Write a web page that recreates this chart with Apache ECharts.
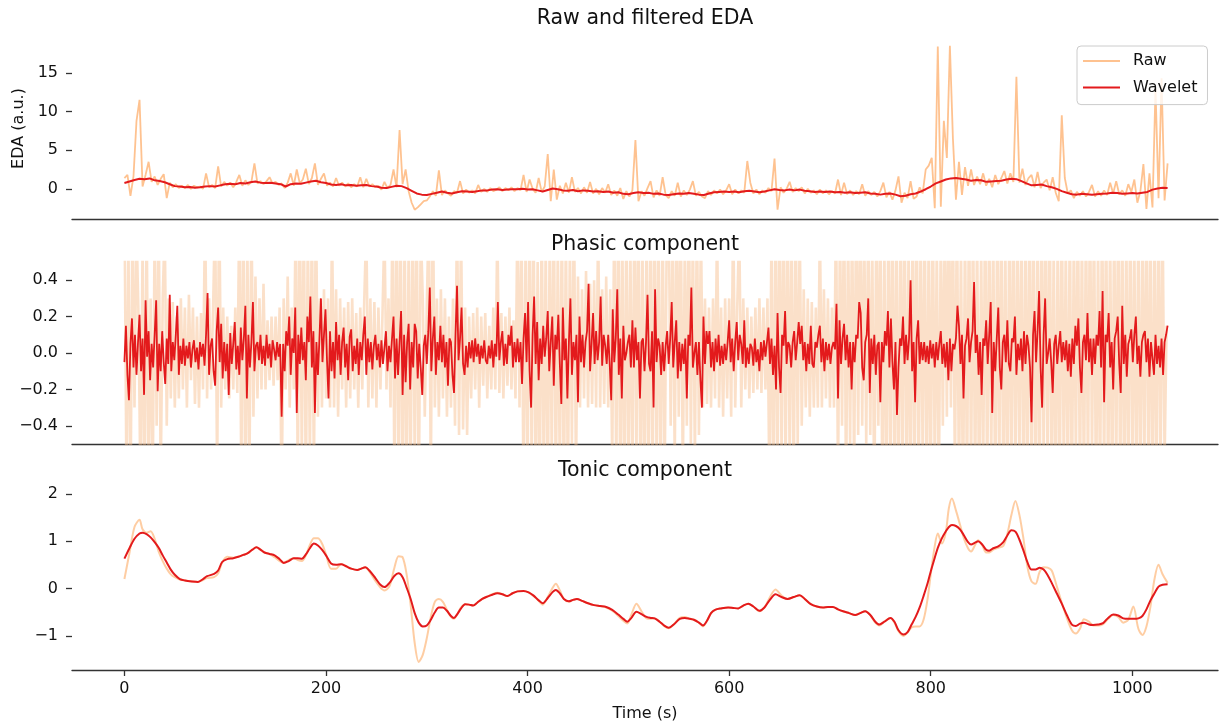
<!DOCTYPE html>
<html>
<head>
<meta charset="utf-8">
<script src="https://cdn.jsdelivr.net/npm/echarts@6/dist/echarts.min.js"></script>
<style>
  html, body { margin: 0; padding: 0; background: #ffffff; }
  #chart { width: 1221px; height: 723px; }
</style>
</head>
<body>
<div id="chart"></div>
<script>
// ---- Recording: raw and wavelet-filtered EDA, decomposed into phasic and tonic parts ----

// Raw EDA, sampled every 3 s (a.u.)
const rawStep = 3;
const edaRaw = [
  1.4, 1.8, -0.9, 1.6, 8.8, 11.5, 0.3, 1.8, 3.5, 0.9,
  1.6, 0.5, 1.3, 1.9, -1.2, 0.8, 0.2, 0.6, 0.1, 0.4,
  0.1, 0.5, 0.0, 0.4, 0.2, 0.3, 0.0, 2.0, 0.2, 0.5,
  0.1, 2.9, 0.3, 0.9, 0.4, 0.8, 0.2, 0.9, 1.8, 0.4,
  1.1, 0.5, 0.9, 3.3, 0.7, 1.0, 0.6, 1.0, 1.5, 0.7,
  0.9, 0.5, 0.7, 0.1, 0.8, 2.0, 0.4, 2.5, 0.7, 1.2,
  2.6, 0.6, 1.4, 3.3, 0.5, 1.3, 2.0, 0.4, 0.8, 0.3,
  1.4, 0.4, 0.8, 0.3, 0.7, 0.2, 0.6, 0.3, 1.5, 0.2,
  1.3, 0.3, 0.6, 0.2, 0.4, -0.1, 0.9, 0.1, 0.5, 2.5,
  0.2, 7.6, 0.6, 2.5, -0.3, -1.8, -2.7, -2.4, -2.0, -1.6,
  -1.5, -1.0, -0.3, -0.9, 2.4, -0.8, -0.2, -0.6, -0.9, -0.3,
  -0.5, 1.0, -0.6, -0.1, -0.5, -0.2, -0.6, 0.5, -0.4, 0.0,
  -0.4, 0.1, -0.3, -0.1, 0.2, -0.3, 0.1, -0.2, 0.2, -0.3,
  0.1, -0.2, 1.8, -0.4, 1.2, 0.0, -0.5, 1.4, -0.4, 0.3,
  4.5, -1.6, 2.5, -1.4, 0.4, -0.6, 0.8, -0.5, 1.5, -0.4,
  0.1, -0.6, 0.2, -0.5, 0.9, -0.6, 0.0, -0.7, 0.1, -0.5,
  0.6, -0.8, -0.2, -0.9, 0.1, -1.3, -0.3, -1.0, -0.2, 6.3,
  -1.6, -0.3, -0.9, 0.1, 1.0, -1.1, -0.2, -0.9, 1.5, -0.8,
  -1.2, -0.3, -0.9, 0.8, -1.0, -0.2, -0.8, -0.1, 1.0, -0.9,
  -0.4, -1.0, -1.2, -0.3, -0.8, -0.2, -0.6, -0.1, -0.7, -0.2,
  0.6, -0.7, -0.1, -0.6, -0.2, -0.5, 3.6, 0.8, -0.6, -0.1,
  -0.7, -0.2, -0.5, 0.1, -0.3, 3.9, -2.7, 0.2, -0.5, 0.0,
  0.9, -0.4, 0.1, -0.3, 0.2, -0.6, 0.0, -0.5, -0.2, -0.7,
  -0.1, -0.6, -0.2, -0.7, -0.3, -0.6, 1.2, -0.8, 0.8, -0.7,
  -0.2, -0.8, -0.3, -0.7, 0.6, -0.9, -0.3, -0.8, -0.4, -1.0,
  -0.3, 0.8, -1.1, -0.4, -1.4, -0.2, 1.6, -1.8, -0.5, -1.2,
  1.0, -1.3, -1.0, 0.2, -0.6, 2.5, 3.0, 4.0, -2.5, 18.4,
  -2.3, 8.8, 4.0, 18.5, 6.5, -1.4, 3.5, -0.8, 2.8, 0.4,
  2.5, 0.5, 1.6, 0.6, 2.0, 0.4, 1.3, 0.2, 1.8, 0.6,
  1.4, 2.3, 0.7, 2.0, 0.9, 14.5, 0.8, 2.6, 0.5, 1.4,
  1.8, 0.2, 2.2, 0.1, 0.8, 1.2, -0.2, 1.5, -0.5, -1.6,
  9.5, 1.4, -0.6, -0.2, -1.2, -0.4, -0.9, -0.3, -1.0, -0.4,
  0.5, -1.0, -0.3, -0.9, -0.2, -0.8, 0.8, -0.6, 1.0, -0.7,
  -0.2, -0.9, 0.6, -0.4, 1.2, -1.8, -0.3, 3.2, -2.6, 2.0,
  -2.4, 13.0, -1.2, 14.3, -1.5, 3.3
];

// Wavelet-filtered EDA, sampled every 5 s
const waveStep = 5;
const edaWavelet = [
  0.75, 0.95, 1.15, 1.30, 1.25, 1.35, 1.10, 1.00, 0.85, 0.60,
  0.35, 0.30, 0.20, 0.25, 0.15, 0.20, 0.30, 0.35, 0.30, 0.45,
  0.60, 0.65, 0.60, 0.75, 0.70, 0.85, 0.95, 0.80, 0.75, 0.80,
  0.70, 0.60, 0.30, 0.60, 0.70, 0.65, 0.80, 0.95, 1.05, 0.85,
  0.75, 0.55, 0.50, 0.60, 0.45, 0.50, 0.40, 0.45, 0.50, 0.35,
  0.30, 0.15, 0.10, 0.25, 0.40, 0.35, 0.10, -0.25, -0.60, -0.75,
  -0.80, -0.65, -0.50, -0.35, -0.50, -0.60, -0.45, -0.30, -0.35, -0.40,
  -0.30, -0.20, -0.20, -0.10, -0.05, -0.15, -0.10, -0.05, -0.05, 0.00,
  -0.10, -0.05, -0.20, -0.35, -0.15, 0.05, -0.05, -0.20, -0.25, -0.15,
  -0.30, -0.20, -0.25, -0.35, -0.30, -0.40, -0.35, -0.50, -0.45, -0.65,
  -0.70, -0.55, -0.45, -0.55, -0.50, -0.65, -0.60, -0.75, -0.80, -0.70,
  -0.60, -0.65, -0.55, -0.65, -0.75, -0.80, -0.60, -0.45, -0.40, -0.35,
  -0.40, -0.35, -0.45, -0.30, -0.25, -0.35, -0.45, -0.35, -0.20, -0.05,
  -0.15, -0.20, -0.10, -0.20, -0.10, -0.25, -0.30, -0.40, -0.35, -0.40,
  -0.35, -0.45, -0.40, -0.50, -0.45, -0.55, -0.50, -0.45, -0.60, -0.65,
  -0.75, -0.65, -0.60, -0.75, -0.95, -0.90, -0.70, -0.60, -0.35, -0.05,
  0.30, 0.70, 0.95, 1.20, 1.35, 1.40, 1.30, 1.20, 1.05, 1.15,
  1.10, 0.90, 0.95, 1.00, 1.05, 1.20, 1.30, 1.25, 1.00, 0.70,
  0.45, 0.50, 0.55, 0.35, 0.20, 0.00, -0.30, -0.50, -0.70, -0.75,
  -0.65, -0.70, -0.75, -0.70, -0.65, -0.60, -0.50, -0.55, -0.65, -0.60,
  -0.55, -0.60, -0.50, -0.40, -0.10, 0.05, 0.15, 0.10
];

// Phasic component of the raw signal, every 2 s
const phasicRawStep = 2;
const phasicRaw = [
  0.9, -0.7, 0.6, -0.9, 0.8, -0.3, 0.7, 0.2, -0.8, 0.6, -0.9, 0.8, -0.7, 0.3, -0.8,
  0.7, -0.4, 0.8, -0.7, 0.3, 0.7, -0.4, 0.3, -0.25, 0.28, -0.3, 0.2, -0.25, 0.3, -0.2,
  0.25, -0.3, 0.32, -0.15, 0.25, -0.28, 0.2, -0.3, 0.22, -0.2, 0.8, -0.25, 0.3, -0.2, 0.25,
  0.8, -0.7, 0.9, -0.3, 0.25, -0.2, 0.2, -0.25, 0.15, -0.2, 0.25, -0.22, 0.8, -0.7, 0.9,
  -0.9, 0.6, -0.7, 0.8, -0.35, 0.42, -0.25, 0.3, -0.2, 0.38, -0.2, 0.18, -0.15, 0.2, -0.18,
  0.2, -0.15, 0.25, -0.8, 0.3, -0.2, 0.42, -0.3, 0.25, -0.2, 0.8, -0.7, 0.9, -0.6, 0.8,
  -0.8, 0.7, -0.6, 0.8, -0.7, 0.9, -0.35, 0.3, -0.3, 0.35, -0.25, 0.3, -0.3, 0.7, -0.3,
  0.35, -0.35, 0.3, -0.2, 0.25, -0.3, 0.28, -0.25, 0.3, -0.2, 0.22, -0.3, 0.25, -0.2, 0.3,
  0.7, -0.3, 0.3, -0.25, 0.28, -0.3, 0.25, -0.2, 0.2, 0.7, -0.2, 0.3, -0.3, 0.8, -0.8,
  0.9, -0.7, 0.8, -0.9, 0.7, -0.8, 0.6, -0.7, 0.9, -0.6, 0.8, -0.9, 0.7, 0.3, -0.35,
  0.25, 0.8, -0.7, 0.9, -0.3, 0.3, -0.35, 0.35, -0.25, 0.3, -0.35, 0.2, -0.3, 0.3, -0.4,
  0.8, -0.45, 0.7, -0.42, 0.25, -0.45, 0.2, -0.25, 0.22, -0.2, 0.25, -0.3, 0.2, -0.18, 0.22,
  -0.25, 0.15, -0.2, 0.25, -0.2, 0.7, -0.22, 0.22, -0.25, 0.2, -0.18, 0.25, -0.2, 0.18, -0.25,
  0.8, -0.3, 0.7, -0.8, 0.6, -0.7, 0.9, -0.6, 0.7, -0.8, 0.5, -0.9, 0.8, -0.7, 0.6,
  -0.9, 0.7, -0.6, 0.9, -0.8, 0.6, -0.7, 0.8, -0.9, 0.7, -0.8, 0.6, -0.5, 0.9, -0.7,
  0.42, -0.3, 0.35, -0.25, 0.45, -0.3, 0.38, -0.28, 0.4, -0.3, 0.7, -0.3, 0.35, -0.28, 0.42,
  -0.3, 0.35, -0.6, 0.8, -0.7, 0.9, -0.8, 0.7, -0.9, 0.8, -0.7, 0.6, -0.8, 0.9, -0.6,
  0.9, -0.8, 0.6, -0.9, 0.7, -0.7, 0.8, -0.8, 0.9, -0.6, 0.7, -0.9, 0.8, -0.7, 0.6,
  0.8, -0.4, 0.7, -0.6, 0.9, -0.35, 0.8, -0.7, 0.6, -0.4, 0.9, -0.5, 0.7, -0.6, 0.8,
  -0.45, 0.7, -0.3, 0.3, -0.28, 0.25, -0.3, 0.3, -0.25, 0.7, -0.3, 0.25, -0.35, 0.3, -0.25,
  0.3, -0.35, 0.8, -0.3, 0.25, 0.7, -0.3, 0.3, -0.2, 0.25, -0.25, 0.2, -0.22, 0.25, -0.2,
  0.3, -0.22, 0.25, -0.2, 0.3, -0.8, 0.7, -0.9, 0.8, -0.7, 0.9, -0.6, 0.8, -0.7, 0.9,
  -0.6, 0.7, -0.8, 0.8, -0.5, 0.7, -0.4, 0.35, -0.3, 0.3, -0.35, 0.28, -0.3, 0.25, -0.3,
  0.7, -0.3, 0.35, -0.25, 0.3, -0.3, 0.25, -0.3, 0.8, -0.7, 0.7, -0.4, 0.9, -0.8, 0.7,
  -0.5, 0.8, -0.7, 0.9, -0.45, 0.9, -0.4, 0.7, -0.5, 0.8, -0.45, 0.6, -0.9, 0.8, -0.4,
  0.8, -0.8, 0.6, -0.9, 0.8, -0.7, 0.9, -0.8, 0.7, -0.9, 0.8, -0.7, 0.9, -0.8, 0.6,
  -0.9, 0.8, -0.7, 0.9, -0.8, 0.7, -0.6, 0.8, -0.9, 0.7, -0.8, 0.9, -0.7, 0.6, -0.8,
  0.7, -0.4, 0.8, -0.35, 0.9, -0.3, 0.8, -0.7, 0.9, -0.8, 0.6, -0.9, 0.7, -0.8, 0.9,
  -0.7, 0.8, -0.8, 0.7, -0.9, 0.6, -0.7, 0.9, -0.8, 0.8, -0.6, 0.7, -0.9, 0.8, -0.7,
  0.9, -0.8, 0.6, -0.9, 0.8, -0.7, 0.9, -0.8, 0.7, -0.6, 0.8, -0.9, 0.7, -0.8, 0.9,
  -0.7, 0.8, -0.9, 0.7, -0.8, 0.9, -0.6, 0.8, -0.7, 0.9, -0.8, 0.6, -0.9, 0.7, -0.8,
  0.9, -0.7, 0.6, -0.8, 0.8, -0.9, 0.7, -0.6, 0.9, -0.8, 0.7, -0.8, 0.8, -0.7, 0.9,
  -0.6, 0.8, -0.9, 0.6, -0.8, 0.9, -0.7, 0.8, -0.8, 0.7, -0.9, 0.8, -0.7, 0.9, -0.8,
  0.8, -0.9, 0.7, -0.8, 0.9, -0.7, 0.6, -0.8, 0.8, -0.9, 0.7, -0.6, 0.9, -0.8, 0.8,
  -0.9, 0.7, -0.8, 0.9, -0.7, 0.8, -0.6, 0.15
];

// Phasic component after wavelet filtering, every 1.5 s
const phasicStep = 1.5;
const phasicWavelet = [
  -0.05, 0.15, -0.12, -0.26, 0.05, 0.19, -0.08, 0.10, -0.12, 0.06, 0.21, -0.10, 0.08, -0.23, 0.29, -0.02, 0.12, -0.15, 0.05, -0.08,
  0.10, 0.29, -0.21, 0.05, -0.10, 0.12, -0.05, -0.17, 0.08, -0.06, 0.32, -0.10, 0.06, -0.04, 0.10, 0.26, -0.12, 0.04, -0.06, 0.08,
  -0.07, 0.04, -0.03, 0.06, -0.08, 0.02, 0.07, -0.05, 0.03, -0.09, 0.06, -0.02, 0.05, -0.07, 0.10, 0.33, -0.12, 0.04, 0.08, -0.10,
  -0.18, 0.12, 0.25, -0.05, 0.16, -0.14, 0.06, -0.10, 0.05, -0.23, 0.11, -0.06, 0.05, 0.17, -0.09, 0.04, -0.12, 0.14, -0.04, 0.08,
  0.26, -0.25, 0.10, -0.08, 0.06, 0.28, -0.10, 0.04, 0.06, -0.04, 0.10, -0.06, 0.04, -0.07, 0.10, -0.03, 0.05, -0.08, 0.07, 0.02,
  -0.04, 0.06, -0.02, 0.05, -0.35, 0.05, -0.10, 0.12, 0.04, 0.20, -0.12, 0.08, 0.00, 0.25, -0.33, 0.10, -0.06, 0.14, -0.04, 0.06,
  -0.15, 0.20, 0.06, 0.31, -0.08, 0.12, -0.33, 0.06, -0.12, 0.08, 0.30, -0.05, 0.10, 0.24, -0.04, -0.25, 0.12, -0.10, 0.06, -0.14,
  0.17, -0.04, 0.10, -0.12, 0.06, 0.14, -0.08, 0.05, -0.15, 0.09, 0.13, -0.10, 0.04, -0.06, 0.08, -0.12, 0.06, -0.04, 0.10, 0.20,
  -0.12, 0.08, -0.05, 0.06, -0.09, 0.04, 0.10, -0.04, 0.05, -0.08, 0.07, -0.06, 0.03, 0.12, -0.10, 0.04, -0.05, 0.08, 0.20, -0.14,
  0.08, -0.12, 0.06, 0.23, -0.23, 0.10, -0.16, 0.06, 0.16, -0.20, 0.06, -0.08, 0.16, 0.12, -0.14, 0.05, -0.08, -0.23, 0.04, 0.10,
  -0.06, 0.12, 0.36, -0.10, 0.08, 0.20, -0.12, 0.06, -0.04, 0.15, -0.05, 0.10, -0.08, 0.06, -0.18, 0.08, 0.06, -0.12, -0.22, 0.10,
  0.37, -0.04, 0.08, 0.25, -0.06, -0.12, 0.04, -0.08, 0.06, -0.03, 0.07, -0.05, 0.08, -0.02, 0.05, -0.06, 0.04, -0.03, 0.07, -0.04,
  -0.06, 0.04, -0.03, 0.07, -0.08, 0.05, -0.02, 0.28, -0.04, 0.06, 0.12, -0.07, 0.05, -0.06, 0.10, 0.04, 0.15, -0.08, 0.06, -0.05,
  0.08, -0.05, 0.06, -0.17, 0.08, 0.22, -0.05, 0.28, -0.10, -0.30, 0.10, 0.31, -0.06, 0.17, -0.15, 0.08, -0.06, 0.15, -0.02, 0.08,
  0.23, -0.10, 0.06, 0.20, -0.18, 0.10, 0.02, 0.21, -0.06, -0.28, 0.25, -0.04, 0.08, -0.25, 0.06, 0.30, -0.12, 0.06, -0.04, 0.10,
  -0.27, 0.20, -0.05, 0.10, -0.08, 0.06, 0.12, 0.38, -0.10, 0.05, 0.22, -0.06, 0.12, -0.04, 0.06, 0.31, -0.07, 0.10, 0.04, -0.06,
  0.10, -0.06, -0.26, 0.24, -0.05, 0.08, 0.35, -0.12, 0.08, -0.25, 0.15, -0.04, 0.00, 0.06, 0.10, -0.08, 0.18, -0.08, 0.14, -0.04,
  0.06, -0.25, 0.06, 0.08, -0.10, 0.06, 0.32, -0.06, -0.10, 0.12, -0.30, 0.35, -0.05, 0.08, 0.04, -0.12, 0.06, -0.10, 0.04, 0.12,
  -0.06, 0.08, 0.28, -0.08, 0.06, 0.18, -0.14, 0.06, -0.10, 0.05, -0.06, 0.08, -0.25, 0.10, 0.04, 0.36, -0.08, 0.00, 0.06, -0.12,
  0.06, -0.15, -0.30, 0.20, -0.06, 0.12, 0.05, 0.12, -0.08, 0.06, -0.10, 0.08, -0.05, 0.10, -0.07, 0.04, -0.06, 0.05, -0.04, 0.06,
  0.18, -0.05, 0.08, -0.10, 0.06, 0.17, -0.04, 0.10, 0.05, -0.06, 0.18, -0.08, 0.03, -0.06, 0.05, 0.03, -0.07, 0.08, -0.05, 0.02,
  -0.10, 0.06, -0.04, 0.07, -0.02, 0.06, 0.14, -0.06, 0.08, -0.12, 0.04, -0.20, 0.22, -0.08, -0.22, 0.10, 0.04, 0.23, -0.06, 0.06,
  0.04, -0.08, 0.06, 0.12, -0.04, 0.06, 0.17, 0.05, 0.15, -0.04, 0.06, -0.10, 0.05, -0.06, 0.15, -0.06, -0.08, 0.06, 0.03, 0.10,
  0.15, -0.05, 0.08, -0.10, 0.06, -0.04, 0.05, -0.06, 0.03, 0.06, 0.02, 0.27, -0.25, 0.18, -0.06, 0.08, 0.16, -0.04, 0.10, -0.08,
  0.06, -0.20, 0.06, -0.05, 0.10, 0.08, 0.28, 0.22, -0.08, -0.15, 0.06, 0.10, 0.30, -0.22, 0.08, -0.06, 0.10, -0.12, 0.04, 0.06,
  -0.27, 0.06, -0.05, 0.12, 0.04, 0.23, -0.08, 0.19, -0.05, -0.20, 0.06, -0.34, -0.08, 0.08, 0.04, 0.20, -0.06, 0.10, -0.04, 0.08,
  0.40, -0.10, 0.06, -0.27, 0.08, 0.18, -0.06, 0.06, -0.04, 0.06, -0.05, 0.04, -0.06, 0.07, -0.03, 0.05, -0.08, 0.06, -0.04, 0.05,
  0.12, -0.06, 0.05, -0.08, 0.06, -0.15, 0.08, -0.10, 0.05, 0.02, 0.08, 0.26, 0.15, -0.06, 0.10, -0.25, 0.04, 0.08, 0.19, -0.05,
  0.06, 0.12, 0.39, 0.00, 0.10, -0.12, 0.06, -0.23, 0.08, 0.04, 0.18, -0.06, 0.10, 0.28, -0.33, 0.06, -0.10, 0.08, 0.25, -0.08,
  -0.20, 0.06, 0.10, -0.05, 0.18, -0.06, -0.10, 0.08, 0.06, 0.20, -0.12, 0.05, -0.04, 0.08, -0.10, 0.12, -0.06, 0.10, 0.04, -0.08,
  -0.38, 0.10, 0.23, -0.05, 0.12, 0.34, -0.08, -0.30, 0.10, 0.30, -0.06, 0.00, 0.08, -0.05, -0.22, 0.05, 0.10, -0.06, 0.04, 0.12,
  -0.05, 0.06, -0.04, 0.07, -0.10, 0.05, -0.13, 0.08, -0.06, 0.15, 0.04, 0.19, -0.08, -0.22, 0.06, 0.10, -0.04, 0.22, -0.05, 0.08,
  -0.12, 0.08, -0.06, 0.10, 0.04, 0.23, -0.08, 0.34, -0.27, 0.10, 0.06, 0.22, -0.08, 0.06, -0.20, 0.08, 0.12, 0.20, -0.06, -0.22,
  0.26, -0.06, 0.10, -0.13, 0.05, 0.08, 0.13, -0.05, 0.10, 0.20, -0.06, 0.04, -0.13, 0.06, 0.10, 0.12, -0.05, 0.08, -0.13, 0.06,
  0.05, -0.12, 0.10, -0.06, 0.04, -0.08, 0.08, -0.12, 0.06, 0.10, 0.15
];

// Tonic component: sample times (s), raw and wavelet values
const tonicTime = [
  0, 5, 10, 15, 18, 22, 26, 30, 34, 38,
  42, 46, 50, 55, 60, 67, 73, 78, 82, 89,
  93, 97, 102, 108, 113, 118, 122, 127, 131, 135,
  139, 144, 149, 154, 158, 163, 168, 172, 176, 180,
  184, 188, 192, 196, 200, 205, 210, 215, 220, 225,
  231, 235, 239, 243, 249, 254, 258, 263, 268, 272,
  276, 280, 284, 288, 292, 296, 300, 304, 308, 312,
  316, 320, 324, 327, 330, 334, 338, 342, 346, 350,
  355, 360, 365, 370, 375, 380, 385, 390, 396, 401,
  406, 411, 415, 420, 425, 428, 432, 436, 441, 445,
  449, 454, 460, 466, 472, 478, 484, 490, 495, 499,
  503, 508, 513, 518, 522, 526, 531, 536, 540, 545,
  551, 556, 561, 565, 570, 574, 578, 582, 586, 592,
  599, 604, 609, 614, 619, 624, 630, 635, 640, 646,
  652, 658, 664, 670, 675, 681, 687, 693, 698, 703,
  708, 713, 719, 725, 730, 735, 740, 745, 749, 754,
  760, 764, 768, 773, 777, 781, 785, 789, 793, 797,
  800, 804, 807, 811, 815, 818, 821, 825, 829, 833,
  837, 840, 844, 847, 851, 855, 858, 862, 867, 872,
  876, 880, 884, 888, 892, 896, 900, 904, 908, 912,
  916, 920, 925, 930, 935, 940, 944, 948, 952, 957,
  961, 966, 971, 976, 981, 986, 991, 996, 1001, 1006,
  1010, 1014, 1018, 1022, 1026, 1030, 1035
];
const tonicRaw = [
  0.20, 0.75, 1.30, 1.45, 1.25, 1.18, 1.21, 1.05, 0.78, 0.58,
  0.42, 0.30, 0.24, 0.19, 0.17, 0.15, 0.14, 0.18, 0.22, 0.24,
  0.32, 0.55, 0.67, 0.65, 0.67, 0.71, 0.74, 0.82, 0.87, 0.82,
  0.76, 0.73, 0.66, 0.58, 0.55, 0.60, 0.64, 0.60, 0.58, 0.70,
  0.92, 1.06, 1.06, 0.95, 0.72, 0.42, 0.42, 0.52, 0.47, 0.42,
  0.39, 0.42, 0.45, 0.36, 0.16, 0.02, -0.04, 0.05, 0.45, 0.68,
  0.66, 0.30, -0.35, -1.15, -1.55, -1.40, -1.05, -0.60, -0.28, -0.22,
  -0.28, -0.45, -0.60, -0.64, -0.55, -0.40, -0.33, -0.34, -0.36, -0.30,
  -0.22, -0.17, -0.12, -0.09, -0.12, -0.16, -0.10, -0.06, -0.05, -0.08,
  -0.16, -0.26, -0.34, -0.18, 0.02, 0.10, -0.04, -0.22, -0.28, -0.24,
  -0.22, -0.26, -0.31, -0.35, -0.37, -0.40, -0.47, -0.58, -0.68, -0.74,
  -0.55, -0.32, -0.48, -0.63, -0.64, -0.63, -0.70, -0.80, -0.84, -0.76,
  -0.62, -0.60, -0.64, -0.66, -0.72, -0.80, -0.68, -0.52, -0.45, -0.42,
  -0.40, -0.41, -0.42, -0.36, -0.32, -0.38, -0.48, -0.40, -0.20, -0.02,
  -0.15, -0.22, -0.18, -0.14, -0.22, -0.33, -0.38, -0.40, -0.39, -0.39,
  -0.44, -0.48, -0.52, -0.56, -0.52, -0.48, -0.56, -0.72, -0.78, -0.70,
  -0.62, -0.72, -0.90, -1.00, -0.93, -0.82, -0.80, -0.80, -0.65, -0.20,
  0.30, 0.90, 1.16, 0.95, 1.20, 1.70, 1.90, 1.65, 1.35, 1.05,
  0.85, 0.78, 0.92, 1.02, 0.92, 0.76, 0.76, 0.82, 0.86, 0.90,
  1.15, 1.55, 1.85, 1.55, 1.05, 0.45, 0.15, 0.10, 0.35, 0.45,
  0.44, 0.38, 0.05, -0.30, -0.62, -0.88, -0.95, -0.85, -0.65, -0.70,
  -0.78, -0.78, -0.75, -0.64, -0.56, -0.60, -0.72, -0.66, -0.38, -0.85,
  -0.98, -0.80, -0.38, 0.20, 0.50, 0.30, 0.12
];
const tonicWavelet = [
  0.63, 0.85, 1.05, 1.16, 1.18, 1.15, 1.08, 0.98, 0.86, 0.70,
  0.55, 0.40, 0.29, 0.20, 0.17, 0.15, 0.14, 0.20, 0.26, 0.31,
  0.38, 0.56, 0.62, 0.64, 0.67, 0.71, 0.74, 0.82, 0.87, 0.82,
  0.76, 0.73, 0.70, 0.62, 0.54, 0.58, 0.64, 0.64, 0.63, 0.72,
  0.85, 0.95, 0.91, 0.82, 0.70, 0.53, 0.50, 0.51, 0.47, 0.42,
  0.39, 0.42, 0.45, 0.38, 0.22, 0.08, 0.03, 0.12, 0.27, 0.32,
  0.24, 0.02, -0.22, -0.52, -0.72, -0.80, -0.78, -0.66, -0.50, -0.40,
  -0.40, -0.47, -0.58, -0.62, -0.55, -0.42, -0.33, -0.34, -0.36, -0.30,
  -0.22, -0.17, -0.13, -0.10, -0.12, -0.16, -0.10, -0.06, -0.05, -0.08,
  -0.15, -0.25, -0.31, -0.20, -0.07, -0.03, -0.10, -0.22, -0.27, -0.24,
  -0.22, -0.26, -0.31, -0.35, -0.37, -0.39, -0.45, -0.55, -0.64, -0.70,
  -0.62, -0.49, -0.54, -0.60, -0.62, -0.63, -0.70, -0.79, -0.83, -0.76,
  -0.64, -0.62, -0.64, -0.66, -0.72, -0.78, -0.68, -0.52, -0.45, -0.42,
  -0.40, -0.41, -0.42, -0.36, -0.32, -0.38, -0.47, -0.40, -0.25, -0.12,
  -0.18, -0.22, -0.18, -0.14, -0.22, -0.33, -0.38, -0.40, -0.39, -0.39,
  -0.44, -0.48, -0.52, -0.56, -0.52, -0.48, -0.56, -0.70, -0.76, -0.70,
  -0.62, -0.70, -0.88, -0.97, -0.92, -0.76, -0.60, -0.40, -0.15, 0.12,
  0.36, 0.65, 0.86, 1.06, 1.21, 1.30, 1.34, 1.32, 1.25, 1.12,
  0.98, 0.93, 0.97, 1.00, 0.93, 0.82, 0.80, 0.85, 0.89, 0.98,
  1.12, 1.23, 1.20, 1.03, 0.80, 0.55, 0.40, 0.40, 0.44, 0.40,
  0.28, 0.12, -0.10, -0.32, -0.56, -0.76, -0.79, -0.74, -0.72, -0.76,
  -0.77, -0.76, -0.73, -0.62, -0.55, -0.57, -0.63, -0.64, -0.64, -0.63,
  -0.58, -0.44, -0.25, -0.10, 0.04, 0.08, 0.09
];

// Tick positions
const timeTicks = [0, 200, 400, 600, 800, 1000];
const edaTicks = [0, 5, 10, 15];
const phasicTicks = [-0.4, -0.2, 0.0, 0.2, 0.4];
const tonicTicks = [-1, 0, 1, 2];

// ---- Styling ----
const FONT = 'DejaVu Sans';
const INK = '#111111';
const SPINE = '#333333';
const RED = '#e31a1c';
const RAW = 'rgba(253,174,107,0.75)';
const RAW_PALE = 'rgba(246,186,136,0.45)';
const RAW_TONIC = 'rgba(253,174,107,0.62)';

const xMin = -52, xMax = 1085;

const onGrid = (step, vals) => vals.map((v, i) => [i * step, v]);
const zipXY = (xs, ys) => ys.slice(0, xs.length).map((v, i) => [xs[i], v]);
const minus = s => String(s).replace('-', '\u2212');

function xAxis(gridIndex, withLabels) {
  return {
    type: 'value', gridIndex, min: xMin, max: xMax, position: 'bottom',
    axisLine: { show: true, onZero: false, lineStyle: { color: SPINE, width: 1.3 } },
    axisTick: { show: withLabels, length: 6, customValues: timeTicks,
                lineStyle: { color: SPINE, width: 1.3 } },
    axisLabel: { show: withLabels, customValues: timeTicks, margin: 11,
                 fontFamily: FONT, fontSize: 16, color: INK,
                 formatter: v => String(v) },
    splitLine: { show: false },
    name: withLabels ? 'Time (s)' : '',
    nameLocation: 'middle', nameGap: 36,
    nameTextStyle: { fontFamily: FONT, fontSize: 16, color: INK }
  };
}

function yAxis(gridIndex, min, max, ticks, fmt, name) {
  return {
    type: 'value', gridIndex, min, max, position: 'left',
    axisLine: { show: false, onZero: false },
    axisTick: { show: true, length: 6, customValues: ticks,
                lineStyle: { color: SPINE, width: 1.3 } },
    axisLabel: { customValues: ticks, margin: 14, fontFamily: FONT, fontSize: 16,
                 color: INK, formatter: fmt },
    splitLine: { show: false },
    name: name || '', nameLocation: 'middle', nameGap: 43, nameRotate: 90,
    nameTextStyle: { fontFamily: FONT, fontSize: 16, color: INK }
  };
}

function line(name, xi, data, color, width, z) {
  return {
    type: 'line', name, xAxisIndex: xi, yAxisIndex: xi, data,
    symbol: 'none', showSymbol: false, clip: true, z,
    lineStyle: { color, width }, itemStyle: { color },
    emphasis: { disabled: true }
  };
}

function titleText(text, y) {
  return {
    type: 'text', x: 645, y, silent: true,
    style: { text, fontFamily: FONT, fontSize: 20.5, fill: INK,
             align: 'center', verticalAlign: 'middle',
             textAlign: 'center', textVerticalAlign: 'middle' }
  };
}

const chart = echarts.init(document.getElementById('chart'), null, { renderer: 'canvas' });
chart.setOption({
  animation: false,
  backgroundColor: '#ffffff',
  grid: [
    { left: 72, right: 3, top: 38, height: 181 },
    { left: 72, right: 3, top: 262, height: 182 },
    { left: 72, right: 3, top: 490, height: 180 }
  ],
  xAxis: [xAxis(0, false), xAxis(1, false), xAxis(2, true)],
  yAxis: [
    yAxis(0, -3.9, 19.5, edaTicks, v => minus(v), 'EDA (a.u.)'),
    yAxis(1, -0.5, 0.5, phasicTicks, v => minus(Number(v).toFixed(1))),
    yAxis(2, -1.72, 2.08, tonicTicks, v => minus(v))
  ],
  legend: {
    data: ['Raw', 'Wavelet'],
    orient: 'vertical', left: 1077, top: 46, z: 20,
    icon: 'rect',
    itemWidth: 37, itemHeight: 2, itemGap: 10.6,
    padding: [7, 10, 9, 6],
    backgroundColor: 'rgba(255,255,255,0.8)',
    borderColor: '#cccccc', borderWidth: 1, borderRadius: 4,
    selectedMode: false,
    textStyle: { fontFamily: FONT, fontSize: 16, lineHeight: 16, color: INK,
                 padding: [0, 0, 0, 8] }
  },
  graphic: [
    titleText('Raw and filtered EDA', 19),
    titleText('Phasic component', 245),
    titleText('Tonic component', 470.5)
  ],
  series: [
    line('Raw', 0, onGrid(rawStep, edaRaw), RAW, 1.8, 2),
    line('Wavelet', 0, onGrid(waveStep, edaWavelet), RED, 2, 3),
    line('Phasic raw', 1, onGrid(phasicRawStep, phasicRaw), RAW_PALE, 2.6, 2),
    line('Phasic wavelet', 1, onGrid(phasicStep, phasicWavelet), RED, 1.8, 3),
    Object.assign(line('Tonic raw', 2, zipXY(tonicTime, tonicRaw), RAW_TONIC, 2, 2), { smooth: 0.3 }),
    Object.assign(line('Tonic wavelet', 2, zipXY(tonicTime, tonicWavelet), RED, 2, 3), { smooth: 0.3 })
  ]
});
</script>
</body>
</html>
